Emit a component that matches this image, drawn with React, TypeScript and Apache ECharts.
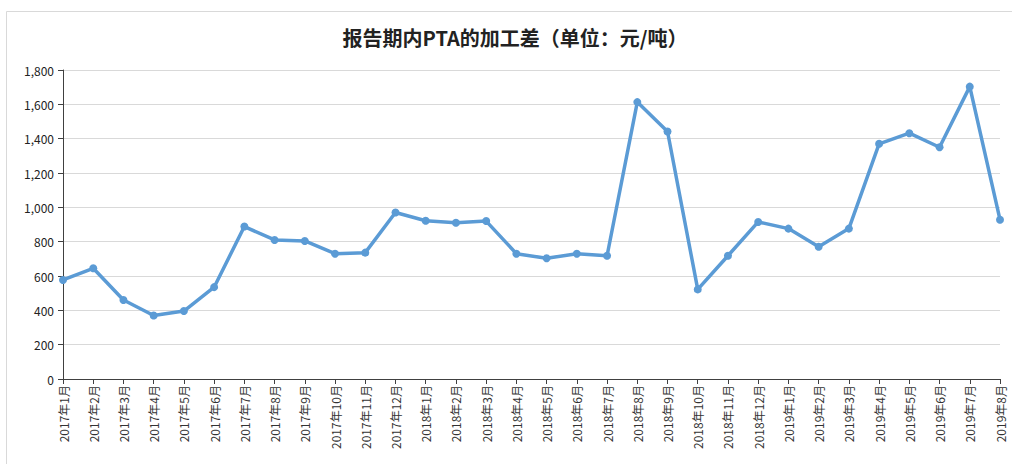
import React, { useEffect, useRef } from "react";
import * as echarts from "echarts";

const categories: string[] = [
  "2017年1月", "2017年2月", "2017年3月", "2017年4月", "2017年5月", "2017年6月",
  "2017年7月", "2017年8月", "2017年9月", "2017年10月", "2017年11月", "2017年12月",
  "2018年1月", "2018年2月", "2018年3月", "2018年4月", "2018年5月", "2018年6月",
  "2018年7月", "2018年8月", "2018年9月", "2018年10月", "2018年11月", "2018年12月",
  "2019年1月", "2019年2月", "2019年3月", "2019年4月", "2019年5月", "2019年6月",
  "2019年7月", "2019年8月",
];

const processingSpread: number[] = [
  577, 645, 460, 370, 396, 535, 888, 810, 804, 730, 736, 970,
  922, 910, 920, 730, 703, 730, 718, 1613, 1442, 522, 718, 915,
  876, 770, 876, 1370, 1432, 1350, 1703, 928,
];

const titleText = "报告期内PTA的加工差（单位：元/吨）";
const yMin = 0;
const yMax = 1800;
const yInterval = 200;

export default function App() {
  const ref = useRef<HTMLDivElement>(null);

  useEffect(() => {
    if (!ref.current) return;
    const chart = echarts.init(ref.current, undefined, { renderer: "svg" });
    const font = "'Noto Sans CJK SC', 'Noto Sans', sans-serif";
    chart.setOption({
      animation: false,
      backgroundColor: "#ffffff",
      title: {
        text: titleText,
        left: 510,
        textAlign: "center",
        top: 22,
        textStyle: { fontFamily: font, fontSize: 20, fontWeight: "bold", color: "#222222" },
      },
      graphic: [
        {
          type: "rect",
          shape: { x: 6.5, y: 11.5, width: 1100, height: 600 },
          style: { fill: "none", stroke: "#d9d9d9", lineWidth: 1 },
          silent: true,
        },
      ],
      grid: { left: 63, right: 12, top: 70, bottom: 85, containLabel: false },
      xAxis: {
        type: "category",
        data: categories,
        boundaryGap: false,
        axisLine: { show: true, lineStyle: { color: "#404040", width: 1 } },
        axisTick: { show: true, alignWithLabel: true, length: 5, lineStyle: { color: "#404040" } },
        axisLabel: {
          interval: 0,
          rotate: 90,
          fontFamily: font,
          fontSize: 12,
          color: "#333333",
          margin: 6,
        },
        splitLine: { show: false },
      },
      yAxis: {
        type: "value",
        min: yMin,
        max: yMax,
        interval: yInterval,
        axisLine: { show: true, lineStyle: { color: "#404040", width: 1 } },
        axisTick: { show: true, length: 5, lineStyle: { color: "#404040" } },
        axisLabel: {
          fontFamily: font,
          fontSize: 12,
          color: "#222222",
          margin: 9,
          formatter: (v: number) => v.toLocaleString("en-US"),
        },
        splitLine: { show: true, lineStyle: { color: "#d9d9d9", width: 1 } },
      },
      series: [
        {
          type: "line",
          data: processingSpread,
          symbol: "circle",
          symbolSize: 8,
          showAllSymbol: true,
          lineStyle: { color: "#5b9bd5", width: 3.5 },
          itemStyle: { color: "#5b9bd5" },
        },
      ],
    });
    return () => chart.dispose();
  }, []);

  return (
    <div
      ref={ref}
      style={{ position: "absolute", left: 0, top: 0, width: 1012, height: 464 }}
    />
  );
}
